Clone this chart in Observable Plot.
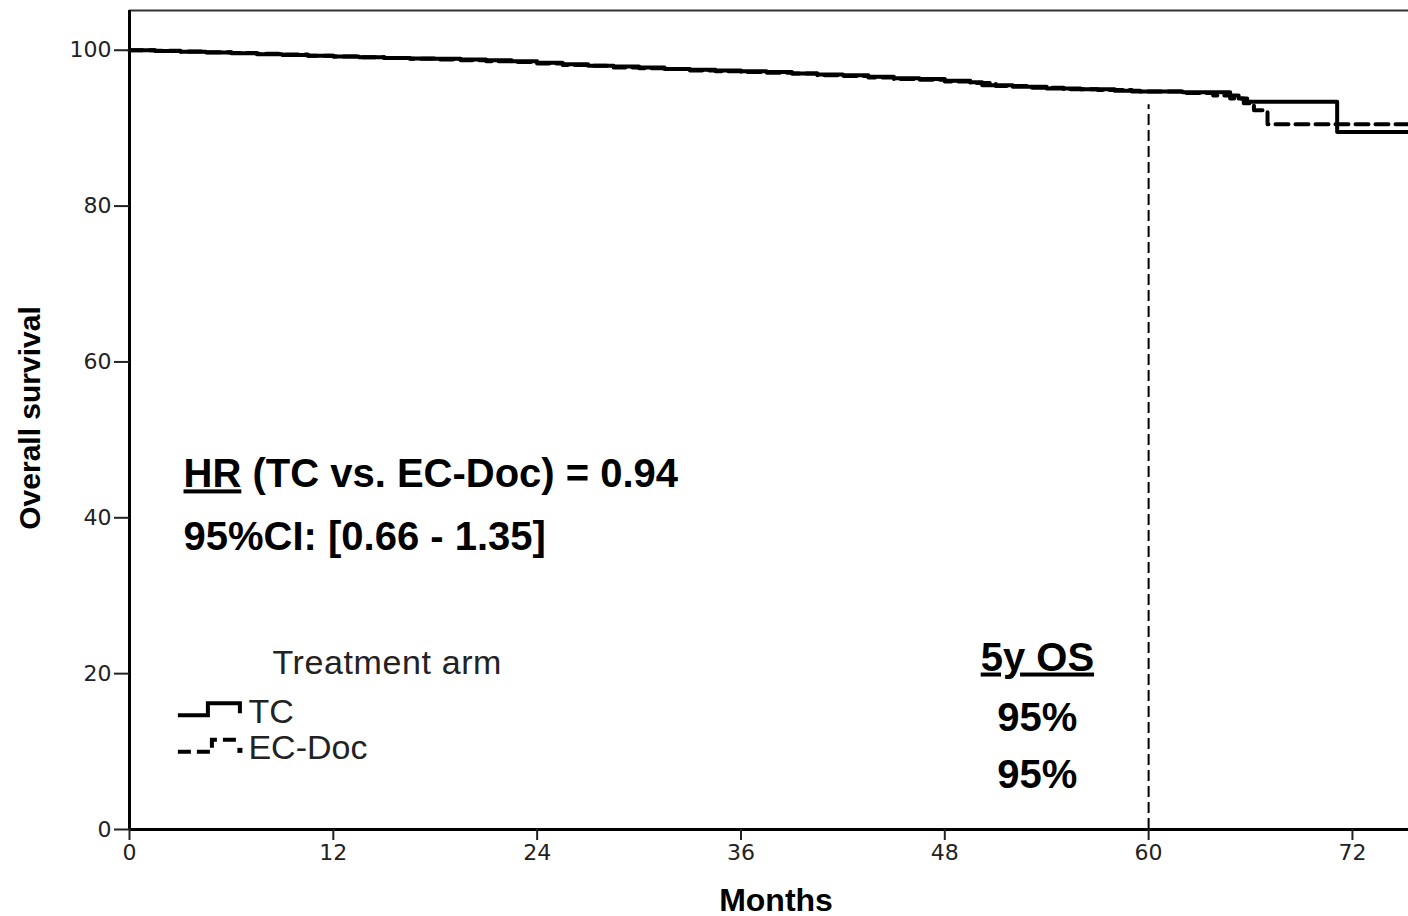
<!DOCTYPE html>
<html><head><meta charset="utf-8">
<script src="https://cdn.jsdelivr.net/npm/d3@7"></script>
<script src="https://cdn.jsdelivr.net/npm/@observablehq/plot@0.6"></script>
<style>
html,body{margin:0;padding:0;background:#fff;}
#chart{position:relative;width:1408px;height:916px;overflow:hidden;}
</style>
</head><body><div id="chart"></div>
<script>
// ---- data ----
const seriesNames = ["TC", "EC-Doc"];
const tcMonths = [0,1.5,3,4.5,6,7.5,9,10.5,12,13.5,15,16.5,18,19.5,21,22.5,24,25.5,27,28.5,30,31.5,33,34.5,36,37.5,39,40.5,42,43.5,45,46.5,48,49.5,50.2,52,54,56,58,59.5,62,64.8,65.3,65.8,71.1,75.3];
const tcSurvival = [100,99.9,99.8,99.7,99.6,99.5,99.4,99.3,99.2,99.1,99.0,98.95,98.9,98.8,98.7,98.6,98.4,98.2,98.0,97.9,97.8,97.6,97.5,97.4,97.3,97.2,97.0,96.9,96.8,96.6,96.4,96.3,96.1,95.9,95.5,95.3,95.1,95.0,94.8,94.7,94.6,94.2,93.8,93.4,89.5,89.5];
const ecMonths = [0,1.5,3,4.5,6,7.5,9,10.5,12,13.5,15,16.5,18,19.5,21,22.5,24,25.5,27,28.5,30,31.5,33,34.5,36,37.5,39,40.5,42,43.5,45,46.5,48,49.5,51,53,55,57,59,62,63.8,64.8,65.6,66.2,67,75.3];
const ecSurvival = [100,99.95,99.85,99.75,99.65,99.55,99.45,99.3,99.2,99.1,99.0,98.9,98.8,98.7,98.6,98.5,98.3,98.1,98.0,97.8,97.7,97.6,97.4,97.3,97.2,97.1,97.0,96.8,96.7,96.5,96.3,96.2,96.0,95.8,95.4,95.2,95.0,94.9,94.7,94.5,94.2,93.8,93.2,92.3,90.5,90.5];
const xTicks = [0,12,24,36,48,60,72];
const yTicks = [0,20,40,60,80,100];
const landmarkMonth = 60;
const hrText = "HR (TC vs. EC-Doc) = 0.94";
const ciText = "95%CI: [0.66 - 1.35]";
const osTitle = "5y OS";
const osValues = ["95%", "95%"];
const legendTitle = "Treatment arm";

// ---- layout constants ----
const X_MAX = 75.3, Y_MAX = 105.1, LANDMARK_TOP = 93;

const tc = tcMonths.map((m, i) => ({arm: seriesNames[0], month: m, surv: tcSurvival[i]}));
const ec = ecMonths.map((m, i) => ({arm: seriesNames[1], month: m, surv: ecSurvival[i]}));

const annoFont = "'Liberation Sans', Arial, sans-serif";

const plot = Plot.plot({
  width: 1408, height: 916,
  marginLeft: 129, marginRight: 0, marginTop: 10, marginBottom: 87,
  style: {fontFamily: "'DejaVu Sans', sans-serif", fontSize: "22px", background: "#fff", color: "#222"},
  x: {domain: [0, X_MAX]},
  y: {domain: [0, Y_MAX]},
  marks: [
    Plot.ruleY([Y_MAX], {stroke: "#333", strokeWidth: 2}),
    Plot.ruleX([landmarkMonth], {y1: 0, y2: LANDMARK_TOP, stroke: "#000", strokeWidth: 2, strokeDasharray: "11,5"}),
    Plot.line(ec, {x: "month", y: "surv", curve: "step-after", stroke: "#000", strokeWidth: 4, strokeDasharray: "13,7"}),
    Plot.line(tc, {x: "month", y: "surv", curve: "step-after", stroke: "#000", strokeWidth: 4}),
    Plot.ruleX([0], {stroke: "#000", strokeWidth: 3}),
    Plot.ruleY([0], {stroke: "#000", strokeWidth: 3}),
    Plot.axisY(yTicks, {tickSize: 15, tickPadding: 3, strokeWidth: 2, label: null, fontSize: 22}),
    Plot.axisX(xTicks, {tickSize: 11, tickPadding: 4, strokeWidth: 2, label: null, fontSize: 22}),
    // axis titles
    Plot.text(["Months"], {frameAnchor: "bottom", textAnchor: "middle", dx: 7, dy: 81, lineAnchor: "bottom", fontSize: 32, fontWeight: "bold", fontFamily: annoFont, fill: "#000"}),
    Plot.text(["Overall survival"], {frameAnchor: "left", textAnchor: "middle", dx: -99, dy: -2, rotate: -90, fontSize: 30, fontWeight: "bold", fontFamily: annoFont, fill: "#000"}),
    // HR annotation
    Plot.text([hrText], {x: 3.18, y: 43.9, textAnchor: "start", lineAnchor: "bottom", fontSize: 40, fontWeight: "bold", fontFamily: annoFont, fill: "#000"}),
    Plot.text([ciText], {x: 3.18, y: 35.9, textAnchor: "start", lineAnchor: "bottom", fontSize: 40, fontWeight: "bold", fontFamily: annoFont, fill: "#000"}),
    // 5y OS annotation
    Plot.text([osTitle], {x: 53.45, y: 20.4, textAnchor: "middle", lineAnchor: "bottom", fontSize: 40, fontWeight: "bold", fontFamily: annoFont, fill: "#000"}),
    Plot.text([osValues[0]], {x: 53.45, y: 12.6, textAnchor: "middle", lineAnchor: "bottom", fontSize: 40, fontWeight: "bold", fontFamily: annoFont, fill: "#000"}),
    Plot.text([osValues[1]], {x: 53.45, y: 5.3, textAnchor: "middle", lineAnchor: "bottom", fontSize: 40, fontWeight: "bold", fontFamily: annoFont, fill: "#000"}),
    // legend
    Plot.text([legendTitle], {x: 8.42, y: 20.0, textAnchor: "start", lineAnchor: "bottom", fontSize: 34, fontFamily: annoFont, fill: "#222"}),
    Plot.text([seriesNames[0]], {x: 7.0, y: 13.7, textAnchor: "start", lineAnchor: "bottom", fontSize: 34, fontFamily: annoFont, fill: "#222"}),
    Plot.text([seriesNames[1]], {x: 7.0, y: 9.0, textAnchor: "start", lineAnchor: "bottom", fontSize: 34, fontFamily: annoFont, fill: "#222"})
  ]
});

document.getElementById("chart").appendChild(plot);

// underline "HR" and "5y OS"
const svg = d3.select(plot);
svg.selectAll("text").each(function () {
  const t = this.textContent;
  if (t === hrText) {
    const rest = t.slice(2);
    const sel = d3.select(this).style("white-space", "pre");
    sel.text("");
    sel.append("tspan").attr("text-decoration", "underline").text("HR");
    sel.append("tspan").text(rest);
  } else if (t === osTitle) {
    d3.select(this).attr("text-decoration", "underline");
  } else if (t === legendTitle) {
    d3.select(this).attr("letter-spacing", "0.6px");
  }
});

// legend glyphs (Kaplan-Meier style step symbols)
const xs = plot.scale("x"), ys = plot.scale("y");
const gx = xs.apply(7.0) - 70, tcY = ys.apply(13.7) - 7, ecY = ys.apply(9.0) - 7;
const g = svg.append("g").attr("fill", "none").attr("stroke", "#000").attr("stroke-width", 4);
g.append("path").attr("d", `M${gx},${tcY} H${gx + 30} V${tcY - 12} H${gx + 62} V${tcY - 2}`);
g.append("path").attr("d", `M${gx},${ecY} H${gx + 34} V${ecY - 12} H${gx + 62}`).attr("stroke-dasharray", "13,6");
g.append("path").attr("d", `M${gx + 62},${ecY - 4} v5`).attr("stroke-width", 5);
</script>
</body></html>
